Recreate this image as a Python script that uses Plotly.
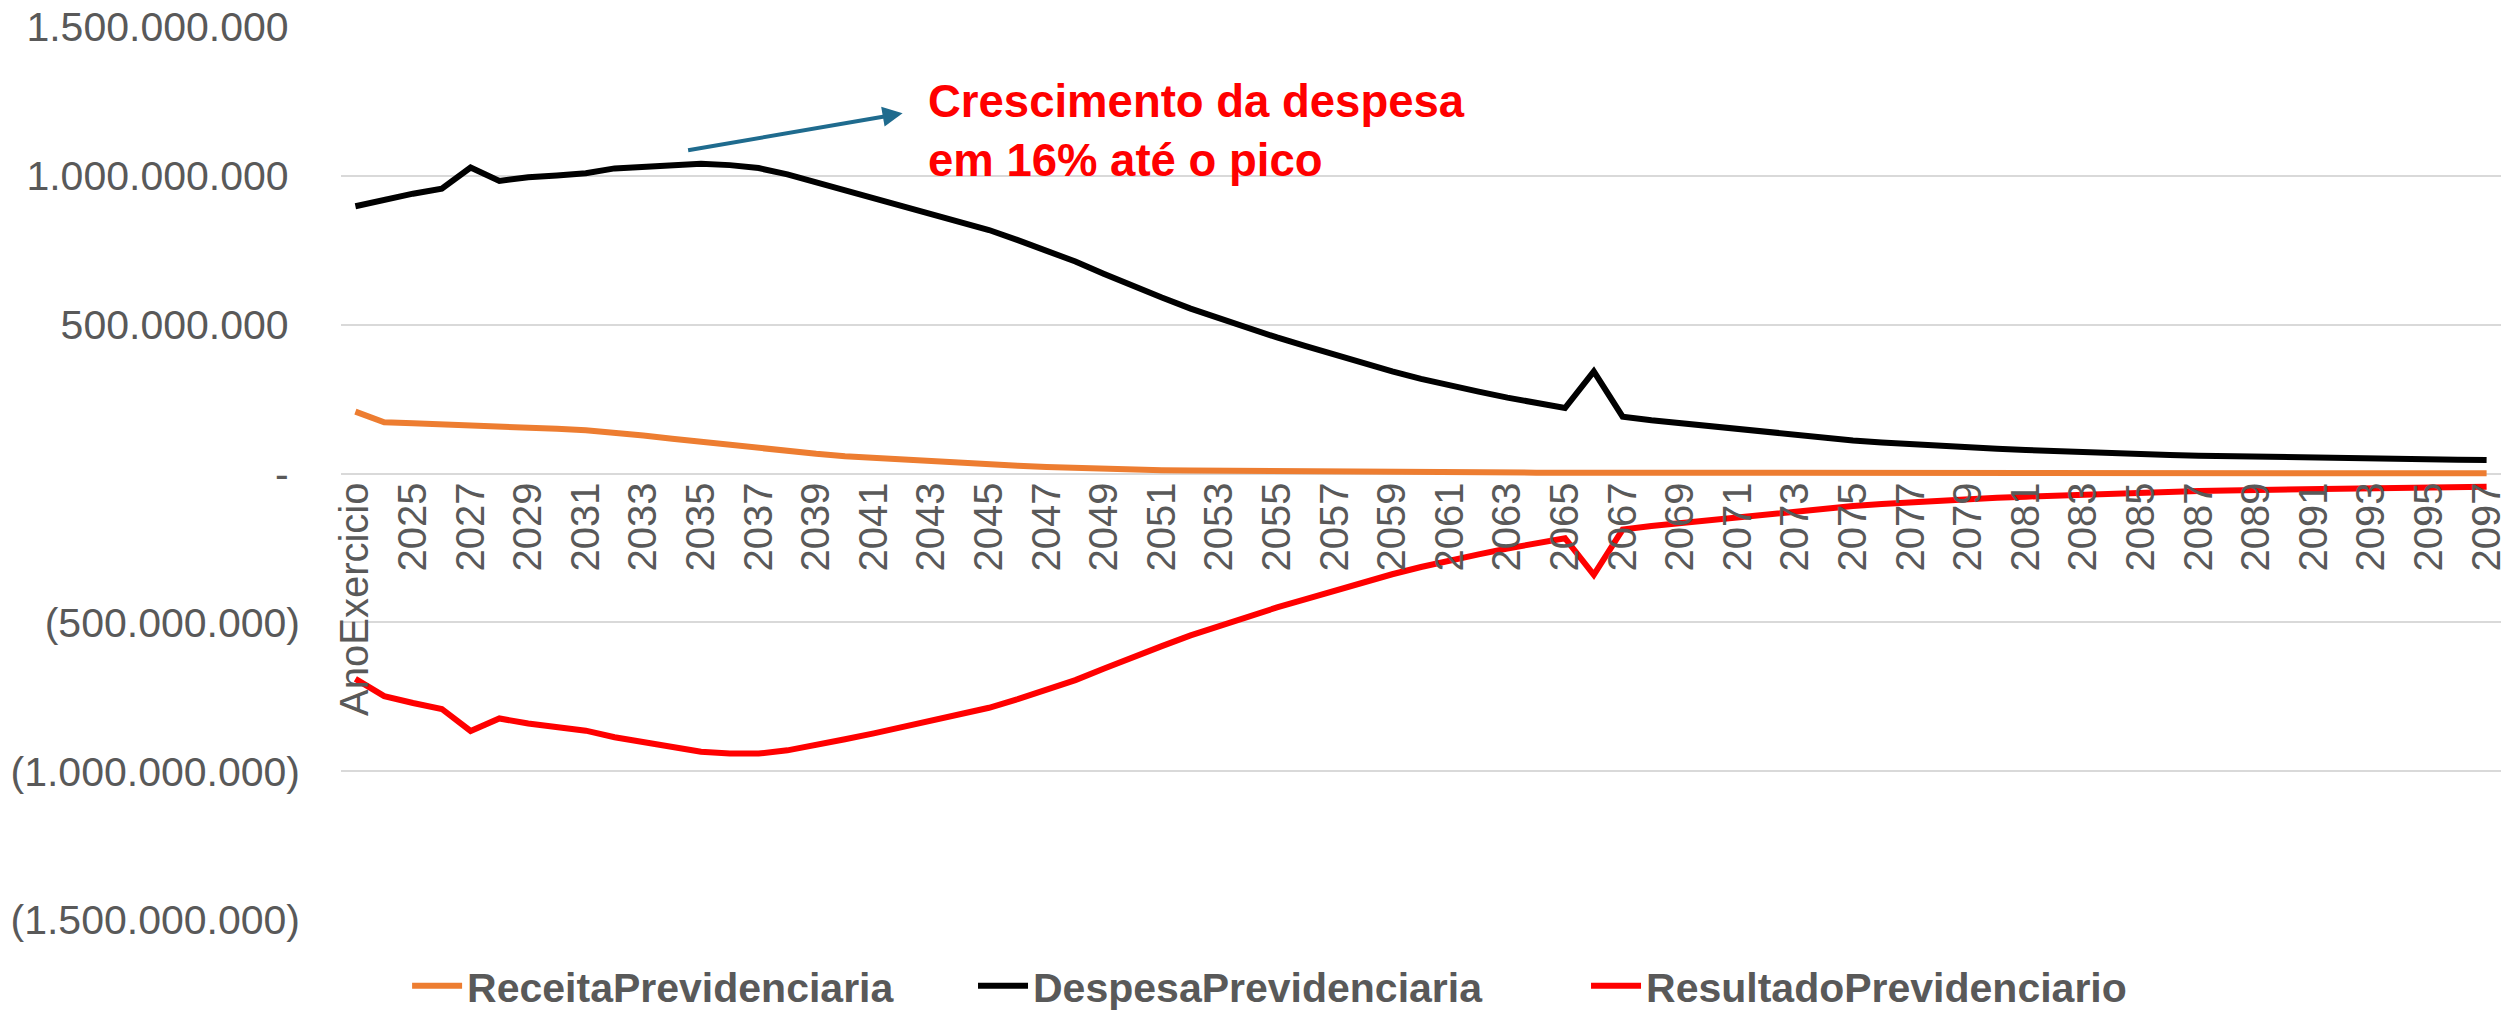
import plotly.graph_objects as go

# Categories (first category is the header label shown by the source chart)
categories = ["AnoExercicio"] + [str(y) for y in range(2024, 2098)]

# Values in millions
receita_mi = [208, 172, 169, 166, 163, 160, 155, 150, 145, 139,
              128, 117, 106, 95, 85, 75, 66, 58, 52, 47,
              42, 37, 31, 26, 22, 18, 15, 13, 11, 10,
              9, 8, 7, 6, 5.5, 5, 4.5, 4, 3.5, 3.2,
              3, 2.8, 2.6, 2.5, 2.4, 2.3, 2.2, 2.1, 2.0, 1.9,
              1.8, 1.7, 1.6, 1.5, 1.5, 1.4, 1.4, 1.3, 1.3, 1.2,
              1.2, 1.1, 1.1, 1.0, 1.0, 1.0, 0.9, 0.9, 0.9, 0.8,
              0.8, 0.8, 0.7, 0.7, 0.7]

despesa_mi = [898, 920, 940, 957, 1028, 983, 995, 1001, 1009, 1025,
              1031, 1039, 1041, 1036, 1026, 1005, 979, 951, 925, 899,
              873, 846, 818, 784, 750, 712, 670, 628, 591, 554,
              520, 487, 457, 428, 399, 371, 343, 318, 295, 275,
              255, 237, 220, 343, 191, 179, 169, 159, 148, 139,
              128, 120, 111, 104, 98, 92, 88, 83, 79, 75,
              71, 68, 65, 62, 60, 58, 56, 54, 52, 51,
              50, 49, 48, 46, 45]

resultado_mi = [-690, -748, -771, -791, -865, -823, -840, -851, -864, -886,
                -903, -922, -935, -941, -941, -930, -913, -893, -873, -852,
                -831, -809, -787, -758, -728, -694, -655, -615, -580, -544,
                -511, -479, -450, -422, -393.5, -366, -338.5, -314, -291.5, -271.8,
                -252, -234.2, -217.4, -340.5, -188.6, -176.7, -166.8, -156.9, -146, -137.1,
                -126.2, -118.3, -109.4, -102.5, -96.5, -90.6, -86.6, -81.7, -77.7, -73.8,
                -69.8, -66.9, -63.9, -61, -59, -57, -55.1, -53.1, -51.1, -50.2,
                -49.2, -48.2, -47.3, -45.3, -44.3]

y_tickvals = [1.5e9, 1.0e9, 0.5e9, 0, -0.5e9, -1.0e9, -1.5e9]
y_ticktext = ["1.500.000.000\u00a0", "1.000.000.000\u00a0", "500.000.000\u00a0", "-\u00a0",
              "(500.000.000)", "(1.000.000.000)", "(1.500.000.000)"]

receita = [v * 1e6 for v in receita_mi]
despesa = [v * 1e6 for v in despesa_mi]
resultado = [v * 1e6 for v in resultado_mi]

FONT = "Liberation Sans, Arial, sans-serif"
GREY = "#595959"

fig = go.Figure()
fig.add_trace(go.Scatter(x=categories, y=receita, mode="lines", name="ReceitaPrevidenciaria",
                         line=dict(color="#ED7D31", width=6), legend="legend"))
fig.add_trace(go.Scatter(x=categories, y=despesa, mode="lines", name="DespesaPrevidenciaria",
                         line=dict(color="#000000", width=6), legend="legend2"))
fig.add_trace(go.Scatter(x=categories, y=resultado, mode="lines", name="ResultadoPrevidenciario",
                         line=dict(color="#FF0000", width=6), legend="legend3"))

# Arrow
fig.add_annotation(x=19, y=1.21e9, ax=11.5, ay=1.085e9, xref="x", yref="y", axref="x", ayref="y",
                   text="", showarrow=True, arrowhead=2, arrowsize=1.0, arrowwidth=4,
                   arrowcolor="#1F6B8E")
# Text
fig.add_annotation(x=19.8, y=1.15e9, xref="x", yref="y", xanchor="left", yanchor="middle",
                   align="left", showarrow=False,
                   text="<b>Crescimento da despesa<br>em 16% até o pico</b>",
                   font=dict(family=FONT, size=45.5, color="#FF0000"))

legend_common = dict(orientation="h", xanchor="left", y=-0.074, yanchor="middle",
                     font=dict(family=FONT, size=41, color=GREY, weight="bold"),
                     itemwidth=50, bgcolor="rgba(0,0,0,0)")

fig.update_layout(
    width=2509, height=1015,
    margin=dict(l=341, r=8, t=27, b=95, autoexpand=False),
    paper_bgcolor="white", plot_bgcolor="white",
    font=dict(family=FONT, color=GREY),
    showlegend=True,
    legend=dict(x=0.0306, **legend_common),
    legend2=dict(x=0.2926, **legend_common),
    legend3=dict(x=0.5764, **legend_common),
    xaxis=dict(type="category", categoryorder="array", categoryarray=categories,
               range=[-0.5, len(categories) - 0.5],
               tickmode="array", tickvals=categories[::2], ticktext=categories[::2],
               tickangle=-90, tickfont=dict(family=FONT, size=40, color=GREY),
               showgrid=False, showline=False, zeroline=False, ticks="",
               anchor="free", position=0.5, ticklabeloverflow="allow"),
    yaxis=dict(range=[-1.5e9, 1.5e9], tickmode="array", tickvals=y_tickvals, ticktext=y_ticktext,
               tickfont=dict(family=FONT, size=41, color=GREY),
               showgrid=True, gridcolor="#D9D9D9", gridwidth=2, zeroline=False,
               showline=False, ticks="", ticklabelstandoff=40, ticklabeloverflow="allow"),
)

fig.write_html("out.html", config={"displayModeBar": False},
               post_script="document.body.style.margin='0';document.body.style.overflow='hidden';")
